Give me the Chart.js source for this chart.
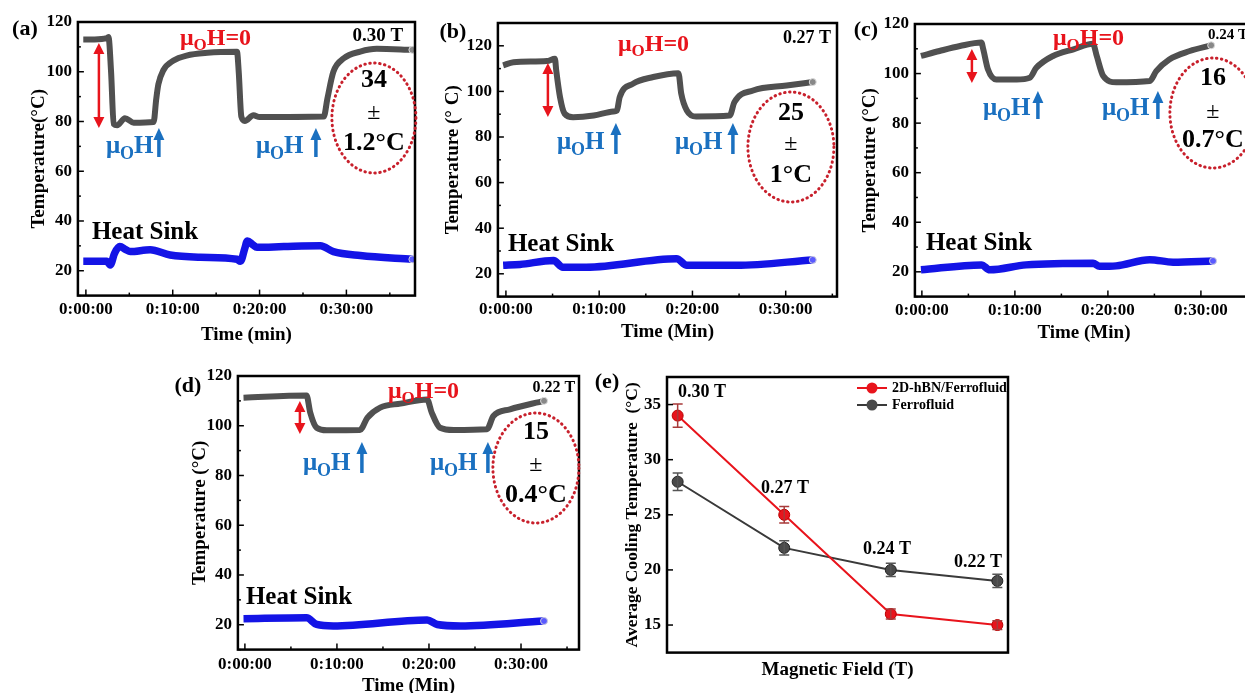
<!DOCTYPE html>
<html>
<head>
<meta charset="utf-8">
<script src="https://cdn.jsdelivr.net/npm/chart.js@4.4.1/dist/chart.umd.min.js"></script>
<style>
  html, body { margin: 0; padding: 0; background: #fff; overflow: hidden; }
  body { width: 1245px; height: 693px; position: relative; }
  canvas { position: absolute; }
</style>
</head>
<body>
<script>
// ---- data (time in minutes, temperature in °C) ----
const timeTicks = [0, 10, 20, 30];
const tempTicks = [20, 40, 60, 80, 100, 120];
const coolTicks = [15, 20, 25, 30, 35];

const aTime = [-0.3, 1.0, 2.4, 2.6, 2.9, 3.2, 3.6, 4.5, 5.5, 7.8, 8.1, 8.35, 8.9, 10.1, 11.6, 14.0, 17.4, 17.6, 17.9, 18.3, 19.3, 20.0, 27.4, 27.8, 28.5, 29.7, 31.6, 33.5, 37.6];
const aTemp = [113, 113, 113.5, 114, 100, 79, 78.5, 81.3, 79.5, 79.8, 89, 95, 100.5, 104.5, 106.5, 107.6, 108, 100, 82, 80.2, 82.5, 81.8, 82, 89, 100, 105.4, 108.1, 109.2, 108.8];
const aSinkTime = [-0.3, 2.4, 2.8, 3.3, 3.9, 4.6, 5.1, 7.4, 9.7, 13.2, 17.4, 17.8, 18.3, 18.6, 19.2, 19.7, 22.8, 27.0, 28.5, 31.6, 37.6];
const aSink = [23.8, 23.8, 22.3, 27, 29.7, 28.5, 27.7, 28.4, 26.3, 25.4, 24.6, 23.8, 29, 32, 30.5, 29.4, 29.7, 30, 27.7, 26.1, 24.6];

const bTime = [-0.3, 0.8, 4.4, 5.25, 5.4, 5.8, 6.3, 7.2, 9.4, 11.5, 11.9, 12.2, 13.6, 15.8, 18.5, 18.8, 19.4, 20.4, 24.0, 24.5, 26.5, 30.1, 32.9];
const bTemp = [111.4, 112.8, 113.3, 114.3, 109, 97.5, 90.2, 88.7, 89.4, 91.2, 91.6, 97.5, 103.3, 106.3, 108, 99, 91.6, 89, 89.4, 95.3, 100.4, 102.6, 104.1];
const bSinkTime = [-0.3, 1.5, 5.1, 6.1, 8.6, 18.3, 19.4, 24.7, 32.9];
const bSink = [23.7, 24.1, 25.8, 22.9, 22.9, 26.6, 23.7, 23.7, 26.1];

const cTime = [-0.1, 1.9, 4.1, 6.4, 6.6, 7.1, 8.0, 10.2, 11.6, 12.3, 14.1, 16.3, 18.4, 18.8, 19.5, 20.9, 24.5, 25.2, 26.6, 28.8, 31.1];
const cTemp = [107.1, 109.1, 111.1, 112.5, 109.8, 101.7, 97.6, 97.6, 98.3, 102.3, 107.1, 109.8, 112, 107.1, 99, 96.5, 97, 101, 105.7, 109.1, 111.4];
const cSinkTime = [-0.1, 6.4, 7.3, 11.2, 18.4, 19.1, 20.9, 24.5, 27.0, 31.3];
const cSink = [20.8, 22.8, 20.8, 22.8, 23.5, 22.2, 22.4, 24.9, 23.9, 24.4];

const dTime = [-0.15, 6.7, 7.1, 7.8, 8.9, 12.5, 13.3, 14.7, 16.9, 19.8, 20.3, 21.2, 22.7, 26.3, 27.0, 28.8, 32.5];
const dTemp = [111.3, 112.2, 105.3, 99.2, 98.2, 98.3, 103.2, 107.3, 108.9, 110.6, 105.3, 99.2, 98.3, 98.6, 103.9, 106.6, 110];
const dSinkTime = [-0.15, 6.7, 7.8, 9.6, 19.8, 20.9, 23.4, 32.5];
const dSink = [22.4, 22.8, 20.1, 19.5, 21.9, 20.1, 19.5, 21.5];

const fieldLabels = ['0.30 T', '0.27 T', '0.24 T', '0.22 T'];
const hbnCooling = [34, 25, 16, 15];
const hbnErr = [1.05, 0.75, 0.45, 0.4];
const ffCooling = [28, 22, 20, 19];
const ffErr = [0.8, 0.65, 0.6, 0.6];

Chart.defaults.font.family = '"Liberation Serif", "Times New Roman", serif';
Chart.defaults.font.weight = 'bold';
Chart.defaults.color = '#000';
Chart.defaults.animation = false;

const SERIF = '"Liberation Serif", "Times New Roman", serif';
const RED = '#e8141c';
const FIELD_BLUE = '#1a70c0';

const pts = (xs, ys) => xs.map((x, i) => ({x, y: ys[i]}));
const clock = v => '0:' + String(v).padStart(2, '0') + ':00';

function text(ctx, s, x, y, size, color, align, weight) {
  ctx.font = (weight || 'bold') + ' ' + size + 'px ' + SERIF;
  ctx.fillStyle = color;
  ctx.textAlign = align || 'center';
  ctx.textBaseline = 'middle';
  ctx.fillText(s, x, y);
}

// "μOH..." with subscript O, left edge at x, vertical middle of caps at y
function muText(ctx, rest, x, y, size, color) {
  const base = y + size * 0.33;
  ctx.fillStyle = color;
  ctx.textAlign = 'left';
  ctx.textBaseline = 'alphabetic';
  ctx.font = 'bold ' + size + 'px ' + SERIF;
  ctx.fillText('μ', x, base);
  x += ctx.measureText('μ').width;
  ctx.font = 'bold ' + Math.round(size * 0.7) + 'px ' + SERIF;
  ctx.fillText('O', x, base + size * 0.22);
  x += ctx.measureText('O').width;
  ctx.font = 'bold ' + size + 'px ' + SERIF;
  ctx.fillText(rest, x, base);
}

function arrowHead(ctx, x, y, dir, w, h) {
  ctx.beginPath();
  ctx.moveTo(x, y);
  ctx.lineTo(x - w / 2, y - dir * h);
  ctx.lineTo(x + w / 2, y - dir * h);
  ctx.closePath();
  ctx.fill();
}

function framePlugin(o) {
  return {
    id: 'frame',
    afterDraw(chart) {
      const {ctx, chartArea: a} = chart;
      ctx.save();
      ctx.strokeStyle = '#000';
      ctx.lineWidth = 2.5;
      ctx.strokeRect(a.left, a.top, a.right - a.left, a.bottom - a.top);
      ctx.lineWidth = 1.5;
      const xs = chart.scales.x, ys = chart.scales.y;
      o.xMinor.forEach(v => {
        const p = xs.getPixelForValue(v);
        const len = o.xMajor.includes(v) ? 6 : 3;
        ctx.beginPath(); ctx.moveTo(p, a.bottom); ctx.lineTo(p, a.bottom - len); ctx.stroke();
      });
      o.yMinor.forEach(v => {
        const p = ys.getPixelForValue(v);
        const len = o.yMajor.includes(v) ? 6 : 3;
        ctx.beginPath(); ctx.moveTo(a.left, p); ctx.lineTo(a.left + len, p); ctx.stroke();
      });
      ctx.restore();
    }
  };
}

// annotations are given in page pixels; shift by the canvas offset
function notesPlugin(n, ox, oy) {
  return {
    id: 'notes',
    afterDraw(chart) {
      const ctx = chart.ctx;
      ctx.save();
      ctx.translate(-ox, -oy);
      text(ctx, n.label[0], n.label[1], n.label[2], 22, '#000');
      if (n.arrow) {
        const [x, y1, y2] = n.arrow;
        ctx.strokeStyle = RED; ctx.fillStyle = RED; ctx.lineWidth = 2.5;
        ctx.beginPath(); ctx.moveTo(x, y1 + 8); ctx.lineTo(x, y2 - 8); ctx.stroke();
        arrowHead(ctx, x, y1, -1, 11, 11);
        arrowHead(ctx, x, y2, 1, 11, 11);
      }
      if (n.zero) muText(ctx, 'H=0', n.zero[0], n.zero[1], 24, RED);
      (n.fields || []).forEach(f => {
        muText(ctx, 'H', f[0], f[1], 25, FIELD_BLUE);
        ctx.strokeStyle = FIELD_BLUE; ctx.fillStyle = FIELD_BLUE; ctx.lineWidth = 3.5;
        ctx.beginPath(); ctx.moveTo(f[2], f[3]); ctx.lineTo(f[2], f[4] + 8); ctx.stroke();
        arrowHead(ctx, f[2], f[4], -1, 11, 12);
      });
      if (n.sink) text(ctx, 'Heat Sink', n.sink[0], n.sink[1], 25, '#000', 'left');
      if (n.tesla) text(ctx, n.tesla[0], n.tesla[1], n.tesla[2], n.tesla[3], '#000', n.tesla[4] || 'center');
      if (n.oval) {
        const o = n.oval;
        ctx.strokeStyle = '#c8202c'; ctx.lineWidth = 3; ctx.lineCap = 'round';
        ctx.setLineDash([0.5, 4.5]);
        ctx.beginPath(); ctx.ellipse(o.x, o.y, o.rx, o.ry, 0, 0, Math.PI * 2); ctx.stroke();
        ctx.setLineDash([]);
        o.lines.forEach(l => text(ctx, l[0], o.x, l[1], l[0] === '±' ? 24 : 26, '#000', 'center', l[0] === '±' ? 'normal' : 'bold'));
      }
      (n.tags || []).forEach(t => text(ctx, t[0], t[1], t[2], 18, '#000'));
      ctx.restore();
    }
  };
}

// error bars + legend for panel (e)
function errPlugin(o, ox, oy) {
  return {
    id: 'errBars',
    afterDatasetsDraw(chart) {
      const ctx = chart.ctx;
      ctx.save();
      chart.data.datasets.forEach((ds, di) => {
        const meta = chart.getDatasetMeta(di);
        ctx.strokeStyle = ds.errColor; ctx.lineWidth = 1.5;
        meta.data.forEach((p, i) => {
          const v = ds.data[i].y, e = ds.err[i];
          const y1 = chart.scales.y.getPixelForValue(v + e);
          const y2 = chart.scales.y.getPixelForValue(v - e);
          ctx.beginPath();
          ctx.moveTo(p.x, y1); ctx.lineTo(p.x, y2);
          ctx.moveTo(p.x - 5, y1); ctx.lineTo(p.x + 5, y1);
          ctx.moveTo(p.x - 5, y2); ctx.lineTo(p.x + 5, y2);
          ctx.stroke();
        });
      });
      ctx.restore();
    },
    afterDraw(chart) {
      const ctx = chart.ctx;
      ctx.save();
      ctx.translate(-ox, -oy);
      chart.data.datasets.forEach((ds, i) => {
        const y = o.y + i * 17;
        ctx.strokeStyle = ds.borderColor; ctx.lineWidth = 2;
        ctx.beginPath(); ctx.moveTo(o.x, y); ctx.lineTo(o.x + 30, y); ctx.stroke();
        ctx.fillStyle = ds.pointBackgroundColor;
        ctx.beginPath(); ctx.arc(o.x + 15, y, 5.5, 0, Math.PI * 2); ctx.fill();
        text(ctx, ds.label, o.x + 35, y, 14, '#000', 'left');
      });
      ctx.restore();
    }
  };
}

// place a chart so its plot area lands on the given page rectangle
function panel(p) {
  const titleLH = p.titleSize * 1.2;
  const yTS = p.yTitleSize || 19;
  const yW = p.yTitle + yTS * 1.2 / 2;
  const xH = p.xTitle + titleLH / 2;
  const padL = 45, padT = 30, padR = 12;
  const left = p.L - yW - padL, top = p.T - padT;
  const w = Math.round(padL + yW + (p.R - p.L) + padR), h = Math.round(padT + (p.B - p.T) + xH);
  const cv = document.createElement('canvas');
  cv.width = w; cv.height = h;
  cv.style.left = left + 'px'; cv.style.top = top + 'px';
  cv.style.width = w + 'px'; cv.style.height = h + 'px';
  document.body.appendChild(cv);
  const plugins = [framePlugin(p.frame), notesPlugin(p.notes, left, top)];
  if (p.legend) plugins.push(errPlugin(p.legend, left, top));
  return new Chart(cv, {
    type: 'line',
    data: {datasets: p.datasets},
    options: {
      responsive: false,
      devicePixelRatio: 1,
      layout: {padding: {left: padL, top: padT, right: padR, bottom: 0}},
      plugins: {legend: {display: false}, tooltip: {enabled: false}},
      scales: {
        x: {
          type: 'linear', min: p.xMin, max: p.xMax,
          grid: {display: false, drawTicks: false}, border: {display: false},
          afterBuildTicks: ax => { ax.ticks = p.xTicks.map(v => ({value: v})); },
          afterFit: ax => { ax.height = xH; },
          ticks: {display: p.xTicks.length > 0, padding: p.xPad, font: {size: 17}, callback: clock, maxRotation: 0, autoSkip: false},
          title: {display: true, text: p.xLabel, font: {size: p.titleSize}, padding: 0}
        },
        y: {
          min: p.yMin, max: p.yMax,
          grid: {display: false, drawTicks: false}, border: {display: false},
          afterBuildTicks: ax => { ax.ticks = p.yTicks.map(v => ({value: v})); },
          afterFit: ax => { ax.width = yW; },
          ticks: {padding: 6, font: {size: 17}},
          title: {display: true, text: p.yLabel, font: {size: yTS}, padding: 0}
        }
      }
    },
    plugins
  });
}

function traces(t, v, st, sv) {
  const last = (c, n) => c.dataIndex === n - 1 ? 3.5 : 0;
  return [
    {data: pts(t, v), borderColor: '#505050', borderWidth: 6, cubicInterpolationMode: 'monotone',
     pointRadius: c => last(c, t.length), pointBackgroundColor: '#888', pointBorderColor: '#ddd', pointBorderWidth: 1},
    {data: pts(st, sv), borderColor: '#1414e6', borderWidth: 7.5, cubicInterpolationMode: 'monotone',
     pointRadius: c => last(c, st.length), pointBackgroundColor: '#5a5aff', pointBorderColor: '#ccd', pointBorderWidth: 1}
  ];
}

const minorTime = [0, 5, 10, 15, 20, 25, 30, 35];
const minorTemp = [10, 20, 30, 40, 50, 60, 70, 80, 90, 100, 110, 120];
const tempFrame = {xMinor: minorTime, xMajor: timeTicks, yMinor: minorTemp, yMajor: tempTicks};

panel({
  L: 78, T: 22, R: 415, B: 296, xMin: -0.92, xMax: 37.9, yMin: 10, yMax: 120,
  xTicks: timeTicks, yTicks: tempTicks, xPad: 4, yTitle: 38.5, xTitle: 39, titleSize: 19,
  xLabel: 'Time (min)', yLabel: 'Temperature(°C)', frame: tempFrame,
  datasets: traces(aTime, aTemp, aSinkTime, aSink),
  notes: {label: ['(a)', 25, 29], arrow: [99, 43, 128], zero: [180, 37],
    fields: [[106, 145, 159, 157, 128], [256, 145, 316, 157, 128]],
    sink: [92, 233], tesla: ['0.30 T', 378, 36, 19],
    oval: {x: 374, y: 118, rx: 42, ry: 55, lines: [['34', 80], ['±', 113], ['1.2°C', 143]]}}
});

panel({
  L: 498, T: 23, R: 837, B: 297, xMin: -0.86, xMax: 35.5, yMin: 10, yMax: 130,
  xTicks: timeTicks, yTicks: tempTicks, xPad: 3, yTitle: 44.5, xTitle: 35, titleSize: 19,
  xLabel: 'Time (Min)', yLabel: 'Temperature (° C)', frame: tempFrame,
  datasets: traces(bTime, bTemp, bSinkTime, bSink),
  notes: {label: ['(b)', 453, 32], arrow: [548, 63, 117], zero: [618, 43],
    fields: [[557, 141, 616, 154, 123], [675, 141, 733, 154, 123]],
    sink: [508, 245], tesla: ['0.27 T', 807, 38, 18],
    oval: {x: 791, y: 147, rx: 43, ry: 55, lines: [['25', 113], ['±', 144], ['1°C', 175]]}}
});

panel({
  L: 915, T: 24, R: 1253, B: 297, xMin: -0.75, xMax: 35.6, yMin: 10, yMax: 120,
  xTicks: timeTicks, yTicks: tempTicks, xPad: 4, yTitle: 44.5, xTitle: 36, titleSize: 19,
  xLabel: 'Time (Min)', yLabel: 'Temperature (°C)', frame: tempFrame,
  datasets: traces(cTime, cTemp, cSinkTime, cSink),
  notes: {label: ['(c)', 866, 30], arrow: [972, 49, 83], zero: [1053, 37],
    fields: [[983, 107, 1038, 119, 91], [1102, 107, 1158, 119, 91]],
    sink: [926, 244], tesla: ['0.24 T', 1208, 35, 15, 'left'],
    oval: {x: 1213, y: 113, rx: 43, ry: 55, lines: [['16', 78], ['±', 112], ['0.7°C', 140]]}}
});

panel({
  L: 238, T: 376, R: 579, B: 650, xMin: -0.76, xMax: 36.3, yMin: 10, yMax: 120,
  xTicks: timeTicks, yTicks: tempTicks, xPad: 5, yTitle: 37.5, xTitle: 36, titleSize: 19,
  xLabel: 'Time (Min)', yLabel: 'Temperature (°C)', frame: tempFrame,
  datasets: traces(dTime, dTemp, dSinkTime, dSink),
  notes: {label: ['(d)', 188, 386], arrow: [300, 401, 434], zero: [388, 390],
    fields: [[303, 462, 362, 473, 442], [430, 462, 488, 473, 442]],
    sink: [246, 598], tesla: ['0.22 T', 554, 388, 16],
    oval: {x: 536, y: 468, rx: 43, ry: 55, lines: [['15', 432], ['±', 465], ['0.4°C', 495]]}}
});

const idx = fieldLabels.map((f, i) => i);
panel({
  L: 667, T: 377, R: 1008, B: 653, xMin: -0.1, xMax: 3.1, yMin: 12.5, yMax: 37.5,
  xTicks: [], yTicks: coolTicks, xPad: 4, yTitle: 34.5, xTitle: 17, titleSize: 19, yTitleSize: 17.5,
  xLabel: 'Magnetic Field (T)', yLabel: 'Average Cooling Temperature  (°C)',
  frame: {xMinor: [], xMajor: [], yMinor: coolTicks, yMajor: coolTicks},
  datasets: [
    {label: '2D-hBN/Ferrofluid', data: pts(idx, hbnCooling), err: hbnErr, errColor: '#a83a3a',
     borderColor: RED, borderWidth: 2, pointRadius: 5.5, pointBackgroundColor: RED, pointBorderColor: '#b00', pointBorderWidth: 1},
    {label: 'Ferrofluid', data: pts(idx, ffCooling), err: ffErr, errColor: '#555',
     borderColor: '#3a3a3a', borderWidth: 2, pointRadius: 5.5, pointBackgroundColor: '#4a4a4a', pointBorderColor: '#222', pointBorderWidth: 1}
  ],
  legend: {x: 857, y: 388},
  notes: {label: ['(e)', 607, 382],
    tags: [[fieldLabels[0], 702, 392], [fieldLabels[1], 785, 488], [fieldLabels[2], 887, 549], [fieldLabels[3], 978, 562]]}
});
</script>
</body>
</html>
